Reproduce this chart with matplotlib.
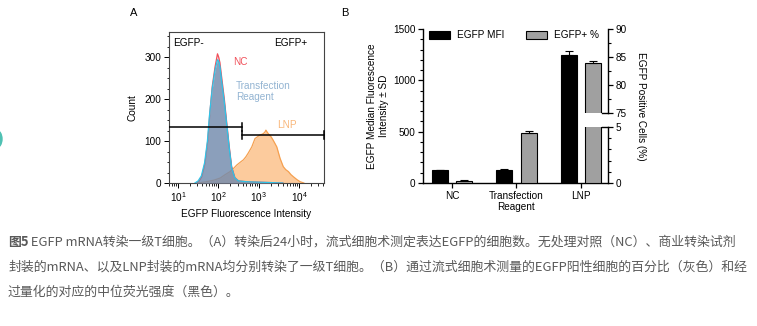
import numpy as np
import matplotlib
matplotlib.use('Agg')
import matplotlib.pyplot as plt
from matplotlib.patches import Rectangle, Ellipse
from matplotlib.ticker import FixedLocator, NullFormatter, LogLocator

plt.rcParams['font.family'] = ['Liberation Sans', 'DejaVu Sans']

# ---- panel A: histogram data (log10 intensity, count) ----
nc_log = [1.45, 1.52, 1.59, 1.67, 1.74, 1.79, 1.85, 1.92, 1.98, 2.01, 2.04, 2.08,
          2.15, 2.21, 2.27, 2.33, 2.41, 2.5, 2.7, 3.0, 3.3, 3.6]
nc_cnt = [0, 4, 15, 47, 102, 166, 230, 277, 308, 300, 287, 255,
          200, 143, 88, 40, 13, 5, 3, 2, 1, 0]
tr_log = [1.42, 1.5, 1.58, 1.66, 1.73, 1.78, 1.85, 1.92, 1.98, 2.01, 2.04, 2.08,
          2.15, 2.21, 2.27, 2.33, 2.41, 2.5, 2.7, 3.0, 3.3, 3.6]
tr_cnt = [0, 5, 17, 48, 100, 160, 225, 270, 294, 290, 278, 245,
          192, 138, 84, 37, 12, 5, 3, 2, 1, 0]
lnp_log = [1.5, 1.7, 1.9, 2.05, 2.17, 2.29, 2.38, 2.46, 2.55, 2.62, 2.68, 2.74, 2.83,
           2.91, 2.97, 3.02, 3.08, 3.12, 3.16, 3.18, 3.22, 3.27, 3.31, 3.36, 3.40,
           3.45, 3.53, 3.61, 3.67, 3.74, 3.80, 3.86, 3.95, 4.03, 4.12]
lnp_cnt = [0, 3, 7, 12, 20, 27, 35, 43, 50, 55, 62, 71, 86,
           106, 110, 114, 116, 118, 122, 126, 120, 114, 110, 102, 95,
           86, 59, 39, 32, 27, 20, 15, 8, 3, 0]
gate_split = 10 ** 2.59

# ---- panel B: bar data ----
groups = ['NC', 'Transfection\nReagent', 'LNP']
mfi = [127, 127, 1247]
mfi_sd = [4, 5, 38]
pos_pct = [0.2, 4.46, 83.9]
pos_sd = [0.05, 0.2, 0.4]

fig = plt.figure(figsize=(7.57, 3.26), dpi=100)
W, H = 757, 326
FS = 7.2

def box(l, t, r, b):
    return [l / W, 1 - b / H, (r - l) / W, (b - t) / H]

# ================= A =================
axA = fig.add_axes(box(169, 32, 324, 183))
xmin, xmax = 6.0, 41700
axA.fill_between(10 ** np.array(lnp_log), lnp_cnt, color='#fbb574', alpha=0.7,
                 lw=0, zorder=1)
axA.plot(10 ** np.array(lnp_log), lnp_cnt, color='#f5a050', lw=0.9, zorder=2)
axA.fill_between(10 ** np.array(nc_log), nc_cnt, color='#e8a0a8', alpha=0.4,
                 lw=0, zorder=3)
axA.plot(10 ** np.array(nc_log), nc_cnt, color='#f0505a', lw=0.9, zorder=4)
axA.fill_between(10 ** np.array(tr_log), tr_cnt, color='#5f87ad', alpha=0.7,
                 lw=0, zorder=5)
axA.plot(10 ** np.array(tr_log), tr_cnt, color='#2ec4e8', lw=0.9, zorder=6)

axA.set_xscale('log')
axA.set_xlim(xmin, xmax)
axA.set_ylim(0, 360)
axA.set_xticks([10, 100, 1000, 10000])
axA.xaxis.set_minor_locator(LogLocator(base=10, subs=np.arange(2, 10)))
axA.xaxis.set_minor_formatter(NullFormatter())
axA.set_yticks([0, 100, 200, 300])
axA.yaxis.set_minor_locator(FixedLocator([v for v in range(25, 360, 25) if v % 100]))
axA.tick_params(labelsize=FS, length=3.5, width=0.7, pad=2)
axA.tick_params(which='minor', length=1.8, width=0.6)
for s in axA.spines.values():
    s.set_color('#444444')
    s.set_linewidth(0.8)
axA.set_xlabel('EGFP Fluorescence Intensity', fontsize=FS, labelpad=3)
axA.set_ylabel('Count', fontsize=FS, labelpad=5)

# gates
axA.plot([xmin, gate_split], [133, 133], color='k', lw=1.1, zorder=8)
axA.plot([gate_split, gate_split], [123, 143], color='k', lw=1.1, zorder=8)
axA.plot([gate_split, xmax], [115, 115], color='k', lw=1.1, zorder=8, clip_on=False)
axA.plot([gate_split, gate_split], [105, 125], color='k', lw=1.1, zorder=8)
axA.plot([xmax, xmax], [105, 125], color='k', lw=1.1, zorder=8, clip_on=False)

axA.text(0.026, 0.93, 'EGFP-', transform=axA.transAxes, fontsize=FS,
         va='center', ha='left')
axA.text(0.89, 0.93, 'EGFP+', transform=axA.transAxes, fontsize=FS,
         va='center', ha='right')
axA.text(10 ** 2.36, 288, 'NC', color='#f0505a', fontsize=FS, va='center')
axA.text(10 ** 2.44, 219, 'Transfection\nReagent', color='#93b4d2', fontsize=FS,
         va='center', linespacing=1.1)
axA.text(10 ** 3.46, 138, 'LNP', color='#f9b77a', fontsize=FS, va='center')

# ================= B =================
axB = fig.add_axes(box(423, 29, 608, 183))
x = np.arange(len(groups))
bw = 0.25
off = 0.19
axB.bar(x - off, mfi, bw, color='black', edgecolor='black', lw=0.8, zorder=3,
        label='EGFP MFI')
axB.errorbar(x - off, mfi, yerr=[np.zeros(3), mfi_sd], fmt='none', ecolor='black',
             elinewidth=0.8, capsize=3, capthick=0.8, zorder=4)
axB.set_ylim(0, 1500)
axB.set_xlim(-0.45, 2.42)
axB.set_yticks([0, 500, 1000, 1500])
axB.yaxis.set_minor_locator(FixedLocator([v for v in range(100, 1500, 100) if v % 500]))
axB.set_xticks(x)
axB.set_xticklabels(groups, fontsize=FS, linespacing=1.2)
axB.tick_params(labelsize=FS, length=3.5, width=0.9, pad=2)
axB.tick_params(which='minor', length=2, width=0.8)
axB.spines['top'].set_visible(False)
axB.spines['right'].set_visible(False)
for s in ['left', 'bottom']:
    axB.spines[s].set_linewidth(1.0)
axB.set_ylabel('EGFP Median Fluorescence\nIntensity ± SD', fontsize=FS,
               linespacing=1.2, labelpad=3)

# broken right axis via a piecewise scale
brk_in = [0, 5, 75, 90]
brk_out = [0, 545, 682, 1500]

def fwd(v):
    return np.interp(v, brk_in, brk_out)

def inv(v):
    return np.interp(v, brk_out, brk_in)

axR = axB.twinx()
axR.set_yscale('function', functions=(fwd, inv))
axR.set_ylim(0, 90)
axR.bar(x + off, pos_pct, bw, color='#a0a0a0', edgecolor='black', lw=0.8, zorder=3,
        label='EGFP+ %')
axR.errorbar(x + off, pos_pct, yerr=[np.zeros(3), pos_sd], fmt='none', ecolor='black',
             elinewidth=0.8, capsize=3, capthick=0.8, zorder=4)
axR.set_yticks([0, 5, 75, 80, 85, 90])
axR.yaxis.set_minor_locator(FixedLocator([1, 2, 3, 4, 77.5, 82.5, 87.5]))
axR.yaxis.set_minor_formatter(NullFormatter())
axR.tick_params(labelsize=FS, length=3.5, width=0.9, pad=2)
axR.tick_params(which='minor', length=2, width=0.8)
for s in axR.spines.values():
    s.set_visible(False)
yt = axR.get_yaxis_transform()
axR.add_patch(Rectangle((2.0, 5), 0.42, 70, facecolor='white', edgecolor='none',
                        zorder=5))
axR.plot([1, 1], [0, 5], transform=yt, color='k', lw=1.0, clip_on=False, zorder=6)
axR.plot([1, 1], [75, 90], transform=yt, color='k', lw=1.0, clip_on=False, zorder=6)
axR.plot([0.97, 1], [5, 5], transform=yt, color='k', lw=1.0, clip_on=False, zorder=6)
axR.plot([0.97, 1], [75, 75], transform=yt, color='k', lw=1.0, clip_on=False, zorder=6)
axR.set_ylabel('EGFP Positive Cells (%)', fontsize=FS, rotation=270, labelpad=14)

h1, l1 = axB.get_legend_handles_labels()
h2, l2 = axR.get_legend_handles_labels()
leg = axR.legend(h1 + h2, l1 + l2, loc='upper left', bbox_to_anchor=(0.0, 1.03),
                 ncol=2, frameon=False, fontsize=FS, handlelength=2.1,
                 handleheight=0.9, handletextpad=0.7, columnspacing=2.2,
                 borderaxespad=0.2)
leg.set_zorder(10)

# panel letters
fig.text(134 / W, 1 - 13 / H, 'A', fontsize=8, ha='center', va='center')
fig.text(345 / W, 1 - 13 / H, 'B', fontsize=8, ha='center', va='center')

# caption
cap_font = ['Noto Sans CJK SC', 'DejaVu Sans']
cap_col = '#595959'
cap_fs = 9.3
lines = [
    ' EGFP mRNA转染一级T细胞。（A）转染后24小时，流式细胞术测定表达EGFP的细胞数。无处理对照（NC）、商业转染试剂',
    '封装的mRNA、以及LNP封装的mRNA均分别转染了一级T细胞。（B）通过流式细胞术测量的EGFP阳性细胞的百分比（灰色）和经',
    '过量化的对应的中位荧光强度（黑色）。',
]
t0 = fig.text(8 / W, 1 - 242 / H, '图5', fontsize=cap_fs, fontweight='bold',
              color=cap_col, family=cap_font, va='center', ha='left')
fig.canvas.draw()
bb = t0.get_window_extent()
fig.text(bb.x1 / W, 1 - 242 / H, lines[0], fontsize=cap_fs,
         color=cap_col, family=cap_font, va='center', ha='left')
fig.text(8 / W, 1 - 267 / H, lines[1], fontsize=cap_fs, color=cap_col,
         family=cap_font, va='center', ha='left')
fig.text(8 / W, 1 - 292 / H, lines[2], fontsize=cap_fs, color=cap_col,
         family=cap_font, va='center', ha='left')

# teal edge marker at left border
fig.patches.append(Ellipse((-4 / W, 1 - 139 / H), 12 / W, 18 / H, color='#4fc1b3',
                           transform=fig.transFigure, figure=fig))

fig.savefig('out.png', dpi=100)
